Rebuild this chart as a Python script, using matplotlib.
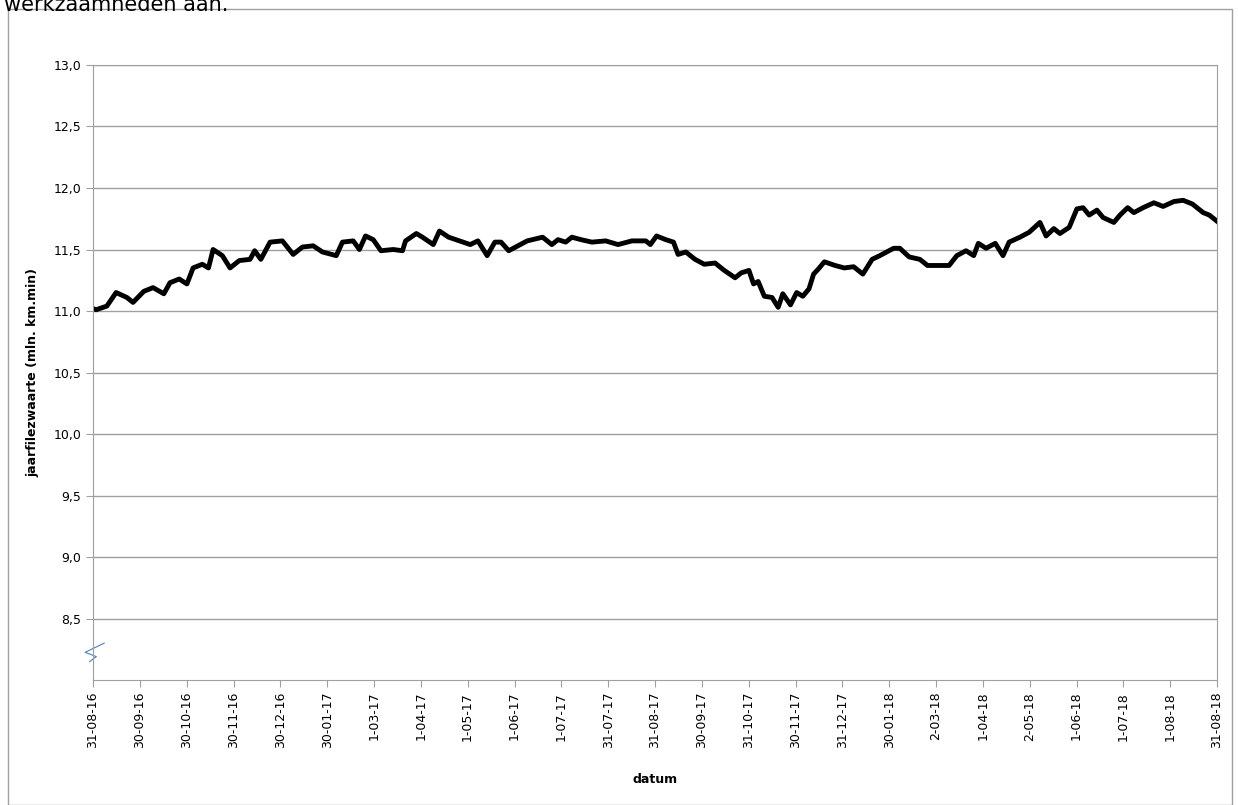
import matplotlib.pyplot as plt
from matplotlib.patches import Rectangle
import numpy as np

# day offset from 31-08-16, jaarfilezwaarte (mln. km.min)
days = [0, 2, 9, 15, 22, 26, 33, 39, 46, 50, 56, 61, 65, 71, 75, 78, 84, 89, 95, 102, 105, 109,
        115, 123, 130, 136, 143, 149, 158, 162, 169, 173, 177, 182, 187, 195, 201, 203, 210, 214,
        221, 225, 231, 238, 245, 250, 256, 261, 265, 270, 276, 282, 292, 298, 302, 307, 311, 317,
        324, 333, 341, 350, 359, 362, 366, 372, 377, 380, 385, 391, 397, 404, 410, 417, 421, 426,
        429, 432, 436, 441, 445, 448, 453, 457, 461, 465, 468, 471, 475, 482, 488, 494, 500, 506,
        511, 520, 524, 530, 537, 542, 550, 556, 561, 567, 572, 575, 580, 586, 591, 595, 602, 608,
        615, 619, 624, 628, 634, 639, 643, 647, 652, 656, 663, 667, 672, 676, 682, 689, 695, 702,
        708, 714, 721, 725, 730]
values = [11.02, 11.01, 11.04, 11.15, 11.11, 11.07, 11.16, 11.19, 11.14, 11.23, 11.26, 11.22,
          11.35, 11.38, 11.35, 11.50, 11.45, 11.35, 11.41, 11.42, 11.49, 11.42, 11.56, 11.57,
          11.46, 11.52, 11.53, 11.48, 11.45, 11.56, 11.57, 11.50, 11.61, 11.58, 11.49, 11.50,
          11.49, 11.57, 11.63, 11.60, 11.54, 11.65, 11.60, 11.57, 11.54, 11.57, 11.45, 11.56,
          11.56, 11.49, 11.53, 11.57, 11.60, 11.54, 11.58, 11.56, 11.60, 11.58, 11.56, 11.57,
          11.54, 11.57, 11.57, 11.54, 11.61, 11.58, 11.56, 11.46, 11.48, 11.42, 11.38, 11.39,
          11.33, 11.27, 11.31, 11.33, 11.22, 11.24, 11.12, 11.11, 11.03, 11.14, 11.05, 11.15,
          11.12, 11.18, 11.30, 11.34, 11.40, 11.37, 11.35, 11.36, 11.30, 11.42, 11.45, 11.51,
          11.51, 11.44, 11.42, 11.37, 11.37, 11.37, 11.45, 11.49, 11.45, 11.55, 11.51, 11.55,
          11.45, 11.56, 11.60, 11.64, 11.72, 11.61, 11.67, 11.63, 11.68, 11.83, 11.84, 11.78,
          11.82, 11.76, 11.72, 11.78, 11.84, 11.80, 11.84, 11.88, 11.85, 11.89, 11.90, 11.87,
          11.80, 11.78, 11.73]
tick_labels = ['31-08-16', '30-09-16', '30-10-16', '30-11-16', '30-12-16', '30-01-17', '1-03-17',
               '1-04-17', '1-05-17', '1-06-17', '1-07-17', '31-07-17', '31-08-17', '30-09-17',
               '31-10-17', '30-11-17', '31-12-17', '30-01-18', '2-03-18', '1-04-18', '2-05-18',
               '1-06-18', '1-07-18', '1-08-18', '31-08-18']
y_ticks = [8.5, 9.0, 9.5, 10.0, 10.5, 11.0, 11.5, 12.0, 12.5, 13.0]

fig = plt.figure(figsize=(12.38, 8.05), dpi=100)
fig.patches.append(Rectangle((8/1238, 0), 1224/1238, 1-9/805, transform=fig.transFigure,
                             fill=False, edgecolor='#a0a0a0', linewidth=1))
fig.text(0.003, 1.006, 'werkzaamheden aan.', fontsize=15, va='top', ha='left')

ax = fig.add_axes([93/1238, 1-680/805, (1217-93)/1238, (680-65)/805])
ax.plot(days, values, color='black', linewidth=3.5, solid_joinstyle='round')
ax.set_xlim(0, 730)
ax.set_ylim(8.0, 13.0)
ax.set_yticks(y_ticks)
ax.set_yticklabels([f'{v:.1f}'.replace('.', ',') for v in y_ticks], fontsize=9)
ax.set_xticks(np.linspace(0, 730, len(tick_labels)))
ax.set_xticklabels(tick_labels, rotation=90, fontsize=9)
ax.grid(axis='y', color='#a0a0a0', linewidth=1)
for s in ['left', 'right', 'top', 'bottom']:
    ax.spines[s].set_color('#a0a0a0')
ax.tick_params(color='#a0a0a0', length=5)
ax.set_xlabel('datum', fontsize=9, fontweight='bold', labelpad=18)
ax.set_ylabel('jaarfilezwaarte (mln. km.min)', fontsize=9, fontweight='bold', labelpad=10)
# axis break symbol
ax.plot([0.01, -0.007, 0.003, -0.003], [0.06, 0.045, 0.038, 0.03], transform=ax.transAxes,
        color='#4f81bd', linewidth=0.8, clip_on=False)

plt.savefig('out.png')
